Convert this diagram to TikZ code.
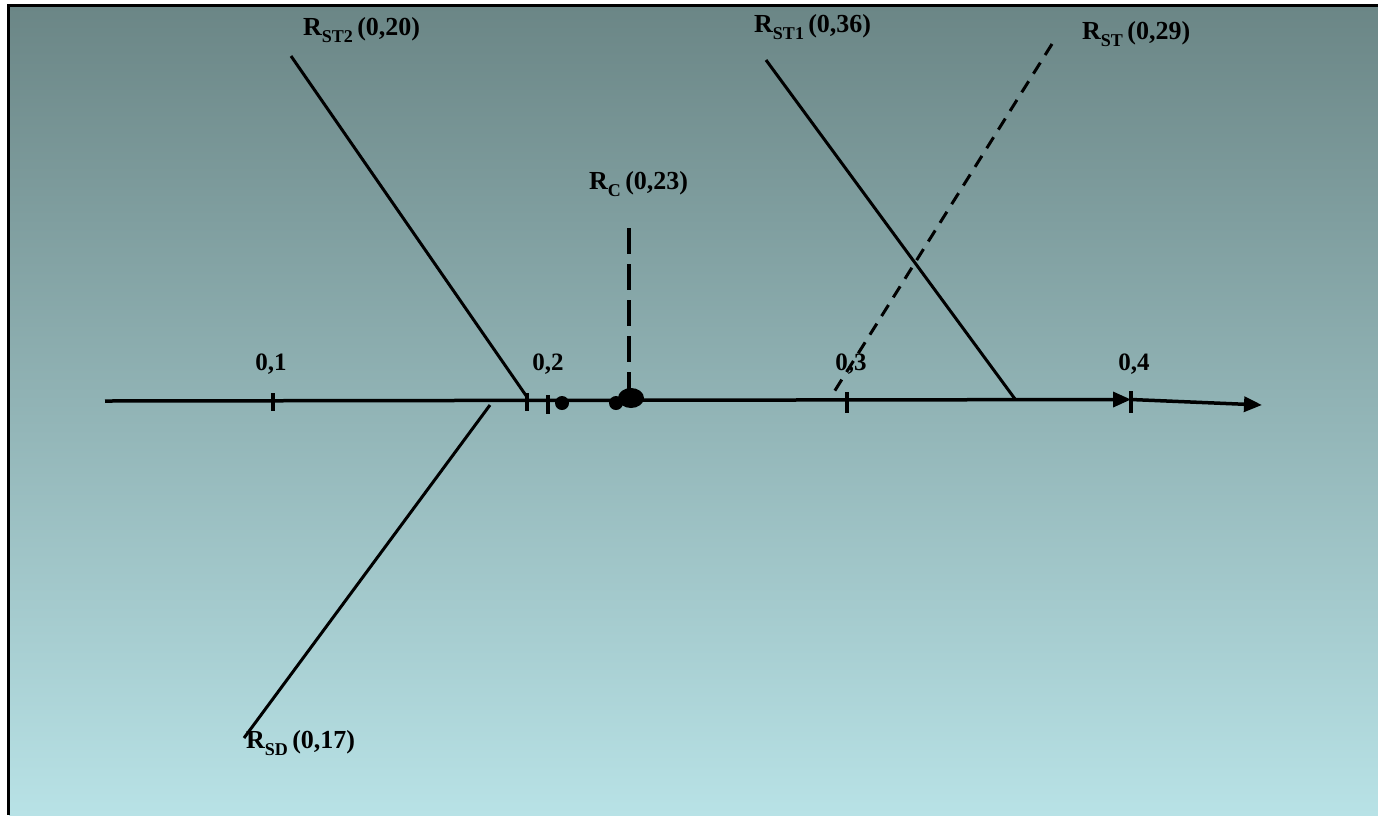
\documentclass[tikz,border=0pt]{standalone}
\usepackage{fontspec}
\setmainfont{Liberation Serif}
\usetikzlibrary{arrows.meta}
\definecolor{bgtop}{RGB}{107,134,134}
\definecolor{bgbot}{RGB}{184,226,230}
\newcommand{\lbl}[2]{\textbf{R\raisebox{-0.28em}{\fontsize{18}{18}\selectfont #1}\,(#2)}}
\tikzset{
  txt/.style={font=\fontsize{26}{30}\selectfont\bfseries, inner sep=0pt, anchor=base west},
  ticklbl/.style={font=\fontsize{25}{30}\selectfont\bfseries, inner sep=0pt, anchor=base},
  axisline/.style={line width=3.5pt, -{Triangle[length=18pt,width=15pt]}},
  branch/.style={line width=3pt},
  dashbranch/.style={line width=3pt, dash pattern=on 13pt off 9pt},
  longdash/.style={line width=3.5pt, dash pattern=on 26pt off 10pt},
  tickmark/.style={line width=3.5pt},
  dot/.style={fill=black, draw=none},
}
\begin{document}
\begin{tikzpicture}[x=1pt,y=-1pt]
\useasboundingbox (0,0) rectangle (1378,815);
\fill[white] (0,0) rectangle (1378,815);
\shade[top color=bgtop, bottom color=bgbot] (9,6) rectangle (1378,815);
\draw[line width=3pt] (7,5.5) -- (1378,5.5);
\draw[line width=3pt] (8.5,4) -- (8.5,815);

% axis
\coordinate (a0) at (105,401);
\coordinate (a1) at (1131,399.5);
\coordinate (a2) at (1262,405);
\draw[axisline] (a0) -- (a1);
\draw[axisline] (a1) -- (a2);

% ticks
\foreach \n/\x/\ya/\yb in {t1/273/393/411, t2/527/393/411, t3/548/395/414, t4/847/392/413, t5/1131/391/413}{
  \coordinate (\n a) at (\x,\ya);
  \coordinate (\n b) at (\x,\yb);
  \draw[tickmark] (\n a) -- (\n b);
}
\node[ticklbl] (l1) at (271,370) {0,1};
\node[ticklbl] (l2) at (548,370) {0,2};
\node[ticklbl] (l3) at (851,370) {0,3};
\node[ticklbl] (l4) at (1134,370) {0,4};

% dots
\fill[dot] (562,403) circle (7);
\fill[dot] (616,403) circle (7);
\fill[dot] (631,398) ellipse (13 and 10);

% R_ST2
\coordinate (st2a) at (291,56);
\coordinate (st2b) at (527,397);
\draw[branch] (st2a) -- (st2b);
\node[txt] (st2l) at (303,35) {\lbl{ST2}{0,20}};

% R_ST1
\coordinate (st1a) at (766,60);
\coordinate (st1b) at (1015,399);
\draw[branch] (st1a) -- (st1b);
\node[txt] (st1l) at (754,32) {\lbl{ST1}{0,36}};

% R_ST dashed
\coordinate (sta) at (1052,44);
\coordinate (stb) at (834,392);
\draw[dashbranch] (sta) -- (stb);
\node[txt] (stl) at (1082,39) {\lbl{ST}{0,29}};

% R_C
\coordinate (ca) at (629,228);
\coordinate (cb) at (629,392);
\draw[longdash] (ca) -- (cb);
\node[txt] (cl) at (589,189) {\lbl{C}{0,23}};

% R_SD
\coordinate (sda) at (490,405);
\coordinate (sdb) at (244,738);
\draw[branch] (sda) -- (sdb);
\node[txt] (sdl) at (246,748) {\lbl{SD}{0,17}};
\end{tikzpicture}
\end{document}
